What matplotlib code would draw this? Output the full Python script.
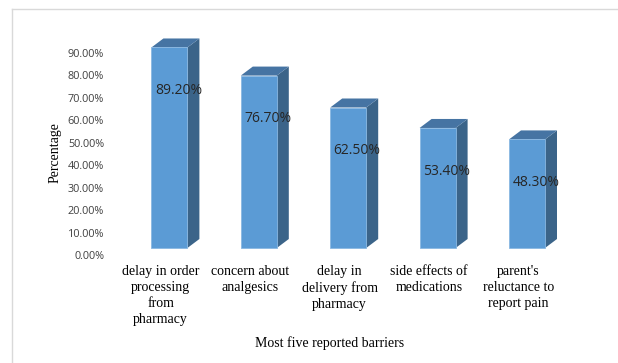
import matplotlib.pyplot as plt
import matplotlib.transforms as mtransforms
from matplotlib.patches import Polygon, Rectangle
from matplotlib.lines import Line2D

barriers = ["delay in order\nprocessing\nfrom\npharmacy",
            "concern about\nanalgesics",
            "delay in\ndelivery from\npharmacy",
            "side effects of\nmedications",
            "parent's\nreluctance to\nreport pain"]
percent = [0.892, 0.767, 0.625, 0.534, 0.483]
y_ticks = [0.0, 0.1, 0.2, 0.3, 0.4, 0.5, 0.6, 0.7, 0.8, 0.9]

front_col = "#5b9bd5"
side_col = "#3b6489"
top_col = "#4674a3"

W, H = 618, 363
fig = plt.figure(figsize=(W / 100, H / 100), dpi=100)
ax = fig.add_axes([116 / W, 108 / H, 447 / W, 224.8 / H])
ax.set_xlim(-0.5, len(percent) - 0.5)
ax.set_ylim(0, 1.0)

# 3d look: depth in pixels converted to data units
px_x = 447 / len(percent)
px_y = 224.8
dx = 12 / px_x
dy = 9 / px_y
width = 36 / px_x
shift = 8.7 / px_x
lift = mtransforms.ScaledTranslation(0, 7 / 100, fig.dpi_scale_trans)
tr = ax.transData + lift

for i, v in enumerate(percent):
    x0 = i + shift - width / 2
    x1 = x0 + width
    side = Polygon([(x1, 0), (x1 + dx, dy), (x1 + dx, v + dy), (x1, v)],
                   closed=True, facecolor=side_col, edgecolor="none", transform=tr, clip_on=False)
    top = Polygon([(x0, v), (x1, v), (x1 + dx, v + dy), (x0 + dx, v + dy)],
                  closed=True, facecolor=top_col, edgecolor="none", transform=tr, clip_on=False)
    front = Rectangle((x0, 0), width, v, facecolor=front_col, edgecolor="#8ab8e2",
                      linewidth=0.6, transform=tr, clip_on=False)
    ax.add_patch(side)
    ax.add_patch(top)
    ax.add_patch(front)
    ax.annotate(f"{v * 100:.2f}%", xy=(i + shift, v), xytext=(6.5, -26),
                textcoords="offset points", ha="center", va="center",
                fontsize=10, family="Open Sans", color="#262626")

ax.set_yticks(y_ticks)
ax.set_yticklabels([f"{t * 100:.2f}%" for t in y_ticks], fontsize=7.8, family="Open Sans", color="#404040")
ax.set_xticks(range(len(barriers)))
ax.set_xticklabels(barriers, fontsize=10, family="Liberation Serif", linespacing=1.3)
ax.tick_params(axis="y", length=0, pad=8.6)
ax.tick_params(axis="x", length=0, pad=7)
for s in ax.spines.values():
    s.set_visible(False)

fig.text(330 / W, 1 - 343 / H, "Most five reported barriers", ha="center", va="center",
         fontsize=10, family="Liberation Serif")
fig.text(55 / W, 1 - 153 / H, "Percentage", ha="center", va="center", rotation=90,
         fontsize=10, family="Liberation Serif")

# outer frame (left and top only)
fig.add_artist(Line2D([12 / W, 12 / W], [0, 1 - 9 / H], color="#d9d9d9", lw=1))
fig.add_artist(Line2D([12 / W, 1], [1 - 9 / H, 1 - 9 / H], color="#d9d9d9", lw=1))

fig.savefig("out.png", dpi=100)
